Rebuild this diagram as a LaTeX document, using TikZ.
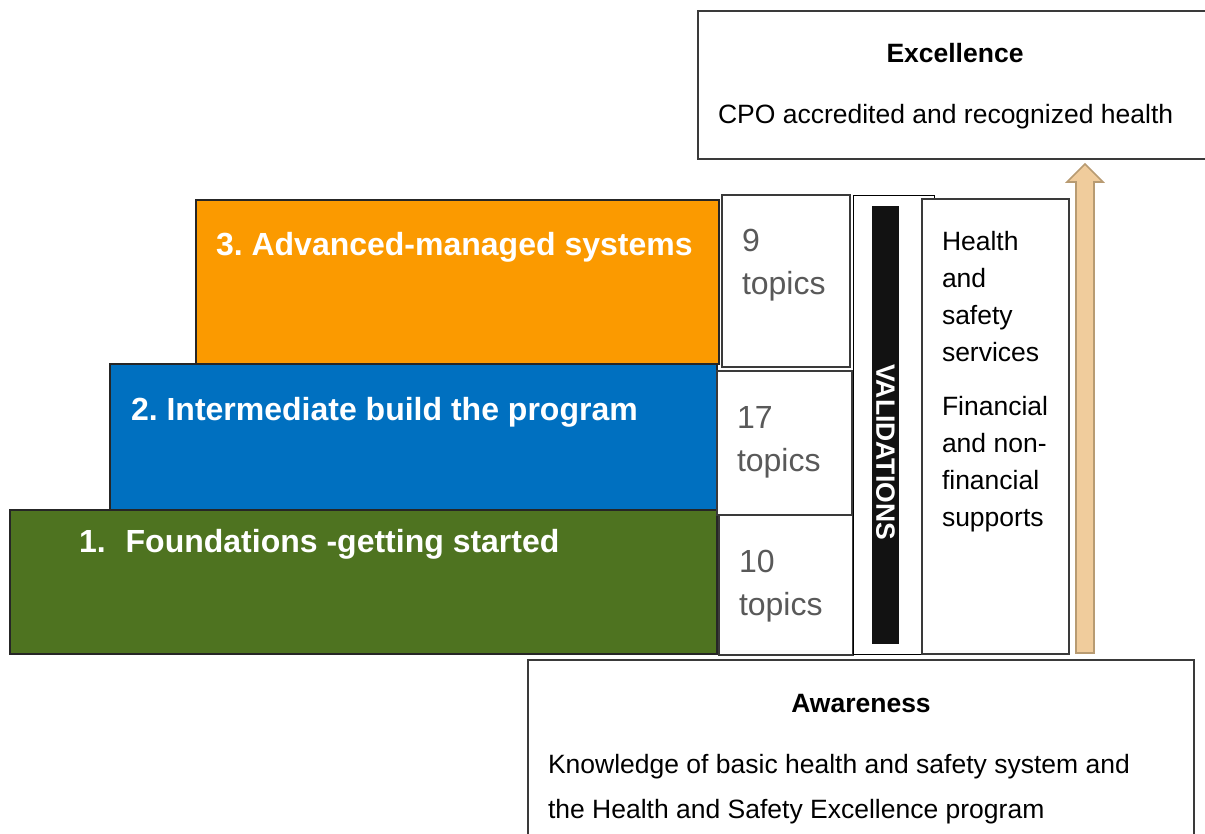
\documentclass[tikz,border=0pt]{standalone}
\usepackage{fontspec}
\setmainfont{Liberation Sans}
\frenchspacing
\definecolor{orangefill}{HTML}{FB9A00}
\definecolor{bluefill}{HTML}{0070C0}
\definecolor{greenfill}{HTML}{4E7320}
\definecolor{topicgray}{HTML}{595959}
\definecolor{edgegray}{HTML}{3A3A3A}
\definecolor{tanfill}{HTML}{F0CC9C}
\definecolor{tanedge}{HTML}{B89B72}
\begin{document}
\begin{tikzpicture}[x=1pt,y=-1pt,
  rbox/.style={draw=edgegray, line width=1.3pt, inner sep=0pt, outer sep=0pt, anchor=north west, fill=white},
  stepbar/.style={rbox, draw=black!85},
  lbl/.style={anchor=base west, inner sep=0pt, outer sep=0pt},
  body/.style={lbl, font=\fontsize{26.5}{37}\selectfont},
  headb/.style={anchor=base, inner sep=0pt, outer sep=0pt, font=\fontsize{26.5}{32}\selectfont\bfseries},
  title/.style={lbl, text=white, font=\fontsize{32}{38}\selectfont\bfseries},
  topic/.style={lbl, text=topicgray, font=\fontsize{32}{38}\selectfont}]
\useasboundingbox (0,0) rectangle (1205,834);
\clip (0,0) rectangle (1205,834);

% Excellence box
\node[rbox, minimum width=515pt, minimum height=148pt] (exc) at (698,11) {};
\node[headb] (exct) at (955,63) {Excellence};
\node[body] (excb) at (718,124) {CPO accredited and recognized health};

% step bars
\node[stepbar, fill=orangefill, minimum width=523pt, minimum height=164pt] (s3) at (196,200) {};
\node[stepbar, fill=bluefill, minimum width=607pt, minimum height=146pt] (s2) at (110,364) {};
\node[stepbar, fill=greenfill, minimum width=707pt, minimum height=144pt] (s1) at (10,510) {};
\node[title] (s3t) at (216,256) {3. Advanced-managed systems};
\node[title] (s2t) at (131,420) {2. Intermediate build the program};
\node[title] (s1t) at (79,552) {1.\hspace{20pt}Foundations -getting started};

% topic boxes
\node[rbox, minimum width=128pt, minimum height=172pt] (t9) at (722,195) {};
\node[rbox, minimum width=135pt, minimum height=144pt] (t17) at (717,371) {};
\node[rbox, minimum width=134pt, minimum height=140pt] (t10) at (719,515) {};
\node[topic] (t9a) at (742,252) {9};
\node[topic] (t9b) at (742,295) {topics};
\node[topic] (t17a) at (737,428) {17};
\node[topic] (t17b) at (737,471) {topics};
\node[topic] (t10a) at (739,572) {10};
\node[topic] (t10b) at (739,615) {topics};

% validations
\node[rbox, line width=1pt, draw=black, minimum width=81pt, minimum height=458pt] (val) at (853,196) {};
\node[anchor=north west, inner sep=0pt, outer sep=0pt, fill=black!93, minimum width=27pt, minimum height=438pt] (bar) at (872,206) {};
\node[rotate=-90, text=white, inner sep=0pt, font=\fontsize{26.5}{32}\selectfont\bfseries] (valt) at (885.5,452) {VALIDATIONS};

% health box
\node[rbox, minimum width=147pt, minimum height=455pt] (hs) at (922,199) {};
\node[body] (h1) at (942,251) {Health};
\node[body] (h2) at (942,288) {and};
\node[body] (h3) at (942,325) {safety};
\node[body] (h4) at (942,362) {services};
\node[body] (f1) at (942,415) {Financial};
\node[body] (f2) at (942,452) {and non-};
\node[body] (f3) at (942,489) {financial};
\node[body] (f4) at (942,526) {supports};

% progress arrow
\draw[fill=tanfill, draw=tanedge, line width=1.6pt, line join=miter]
  (1076,653) -- (1076,182) -- (1067,182) -- (1085,164) -- (1103,182) -- (1094,182) -- (1094,653) -- cycle;

% Awareness box
\node[rbox, minimum width=666pt, minimum height=190pt] (aw) at (528,660) {};
\node[headb] (awt) at (861,712) {Awareness};
\node[body] (awb1) at (548,773) {Knowledge of basic health and safety system and};
\node[body] (awb2) at (548,818) {the Health and Safety Excellence program};
\end{tikzpicture}
\end{document}
